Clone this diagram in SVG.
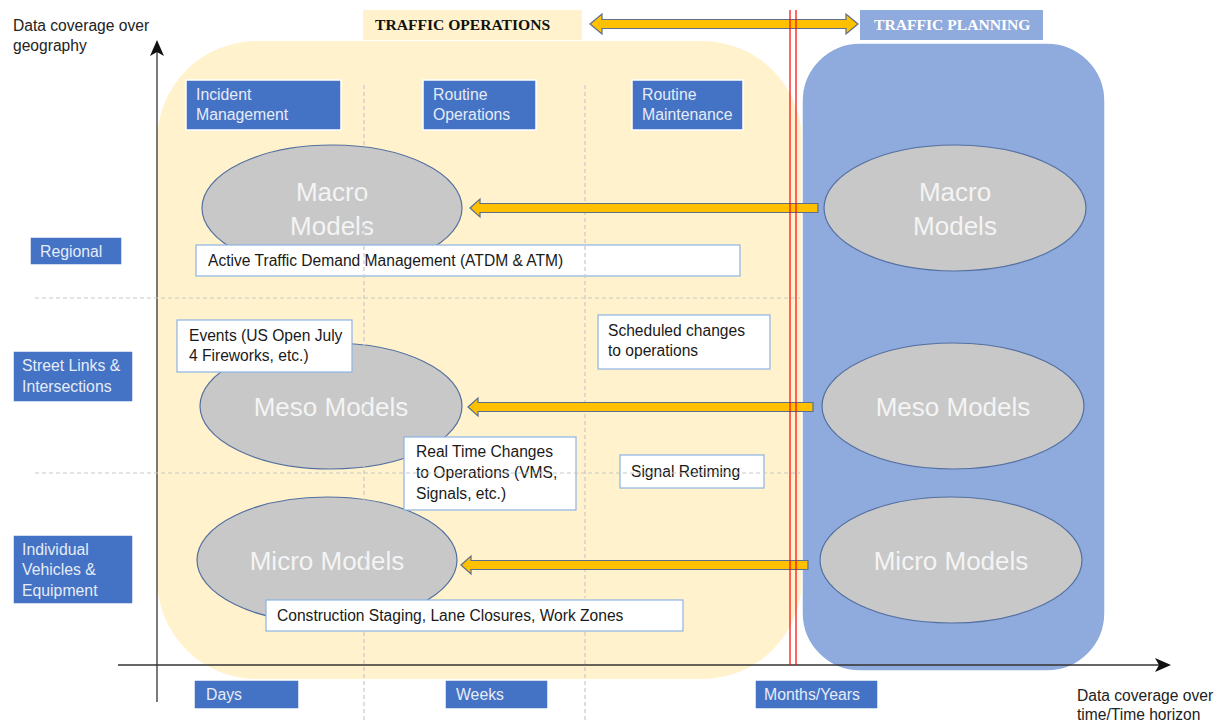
<svg xmlns="http://www.w3.org/2000/svg" width="1219" height="723" viewBox="0 0 1219 723">
<style>
.lbl{fill:#4472C4;stroke:#ffffff;stroke-width:1.5}
.lt{font-family:"Liberation Sans",Arial,sans-serif;font-size:15.8px;fill:#E6ECF7}
.wb{fill:#ffffff;stroke:#8EB4E3;stroke-width:1.2}
.wt{font-family:"Liberation Sans",Arial,sans-serif;font-size:15.6px;fill:#1a1a1a}
.ell{fill:#C8C8C8;stroke:#5470A0;stroke-width:1.2}
.et{font-family:"Liberation Sans",Arial,sans-serif;font-size:26px;fill:#F4F4F4;text-anchor:middle}
.arr{fill:#FFC000;stroke:#5B6F8F;stroke-width:1.2}
.dash{stroke:#C8C8C8;stroke-width:1.2;stroke-dasharray:4 3;fill:none}
.red{stroke:#FF0000;stroke-width:1.2}
.ax{stroke:#333333;stroke-width:1.3}
.at{font-family:"Liberation Sans",Arial,sans-serif;font-size:15.6px;fill:#222222}
.tt{font-family:"Liberation Serif","Times New Roman",serif;font-size:15.6px;font-weight:bold}
</style>
<rect width="1219" height="723" fill="#ffffff"/>
<g id="operations-area"><rect x="157" y="41" width="645" height="638" rx="100" ry="100" fill="#FFF2CC"/></g>
<g id="planning-area"><rect x="802" y="43" width="303" height="628" rx="58" ry="58" fill="#8FAADC" stroke="#ffffff" stroke-width="1.5"/></g>

<g id="title-operations"><rect x="363" y="10" width="219" height="30" fill="#FFF2CC"/><text class="tt" x="375" y="30" fill="#111111">TRAFFIC OPERATIONS</text></g>
<g id="title-planning"><rect x="860" y="10" width="183" height="30" fill="#8FAADC"/><text class="tt" x="874" y="30" fill="#ffffff">TRAFFIC PLANNING</text></g>

<g id="axes">
<line class="ax" x1="157" y1="702" x2="157" y2="48"/>
<path d="M157,40 L150,56 L157,52 L164,56 Z" fill="#111"/>
<line class="ax" x1="118" y1="665" x2="1162" y2="665"/>
<path d="M1171,665 L1155,658 L1159,665 L1155,672 Z" fill="#111"/>
</g>
<g id="axis-labels">
<text class="at" x="13" y="31">Data coverage over</text>
<text class="at" x="13" y="51">geography</text>
<text class="at" x="1077" y="701">Data coverage over</text>
<text class="at" x="1077" y="720">time/Time horizon</text>
</g>

<g id="ellipses">
<g id="macro-ops"><ellipse class="ell" cx="332" cy="208" rx="130" ry="63"/><text class="et" x="332" y="201">Macro</text><text class="et" x="332" y="235">Models</text></g>
<g id="meso-ops"><ellipse class="ell" cx="331" cy="406" rx="131" ry="63"/><text class="et" x="331" y="416">Meso Models</text></g>
<g id="micro-ops"><ellipse class="ell" cx="327" cy="560" rx="130" ry="63"/><text class="et" x="327" y="570">Micro Models</text></g>
<g id="macro-plan"><ellipse class="ell" cx="955" cy="208" rx="131" ry="63"/><text class="et" x="955" y="201">Macro</text><text class="et" x="955" y="235">Models</text></g>
<g id="meso-plan"><ellipse class="ell" cx="953" cy="406" rx="131" ry="63"/><text class="et" x="953" y="416">Meso Models</text></g>
<g id="micro-plan"><ellipse class="ell" cx="951" cy="560" rx="131" ry="63"/><text class="et" x="951" y="570">Micro Models</text></g>
</g>

<g id="box-atdm"><rect class="wb" x="196" y="245" width="544" height="31"/><text class="wt" x="208" y="266">Active Traffic Demand Management (ATDM &amp; ATM)</text></g>
<g id="box-events"><rect class="wb" x="177" y="320" width="175" height="52"/><text class="wt" x="189" y="341">Events (US Open July</text><text class="wt" x="189" y="361">4 Fireworks, etc.)</text></g>
<g id="box-scheduled"><rect class="wb" x="598" y="315" width="172" height="54"/><text class="wt" x="608" y="336">Scheduled changes</text><text class="wt" x="608" y="356">to operations</text></g>
<g id="box-construction"><rect class="wb" x="266" y="600" width="417" height="31"/><text class="wt" x="277" y="621">Construction Staging, Lane Closures, Work Zones</text></g>
<g id="box-realtime"><rect class="wb" x="404" y="437" width="172" height="73"/><text class="wt" x="416" y="457">Real Time Changes</text><text class="wt" x="416" y="478">to Operations (VMS,</text><text class="wt" x="416" y="499">Signals, etc.)</text></g>
<g id="box-signal"><rect class="wb" x="620" y="455" width="144" height="33"/><text class="wt" x="631" y="477">Signal Retiming</text></g>

<g id="grid">
<line class="dash" x1="364" y1="85" x2="364" y2="598"/>
<line class="dash" x1="364" y1="632" x2="364" y2="723"/>
<line class="dash" x1="585" y1="85" x2="585" y2="598"/>
<line class="dash" x1="585" y1="632" x2="585" y2="723"/>
<line class="dash" x1="35" y1="298" x2="800" y2="298"/>
<line class="dash" x1="35" y1="473" x2="800" y2="473"/>
</g>

<g id="connectors">
<path class="arr" d="M470,208 L480,199 L480,203.5 L818,203.5 L818,212.5 L480,212.5 L480,217 Z"/>
<path class="arr" d="M468,407 L478,398 L478,402.5 L813,402.5 L813,411.5 L478,411.5 L478,416 Z"/>
<path class="arr" d="M461,565 L471,556 L471,560.5 L808,560.5 L808,569.5 L471,569.5 L471,574 Z"/>
<path class="arr" d="M590,24 L602,14 L602,19.5 L846,19.5 L846,14 L858,24 L846,34 L846,28.5 L602,28.5 L602,34 Z"/>
<line class="red" x1="790" y1="10" x2="790" y2="665"/>
<line class="red" x1="796" y1="10" x2="796" y2="665"/>
</g>

<g id="label-incident"><rect class="lbl" x="186" y="80" width="155" height="50"/><text class="lt" x="196" y="100">Incident</text><text class="lt" x="196" y="120">Management</text></g>
<g id="label-routine-ops"><rect class="lbl" x="423" y="80" width="113" height="50"/><text class="lt" x="433" y="100">Routine</text><text class="lt" x="433" y="120">Operations</text></g>
<g id="label-routine-maint"><rect class="lbl" x="632" y="80" width="111" height="50"/><text class="lt" x="642" y="100">Routine</text><text class="lt" x="642" y="120">Maintenance</text></g>
<g id="label-regional"><rect class="lbl" x="30" y="237" width="92" height="28"/><text class="lt" x="40" y="257">Regional</text></g>
<g id="label-street"><rect class="lbl" x="13" y="351" width="120" height="51"/><text class="lt" x="22" y="371">Street Links &amp;</text><text class="lt" x="22" y="392">Intersections</text></g>
<g id="label-individual"><rect class="lbl" x="13" y="535" width="120" height="69"/><text class="lt" x="22" y="555">Individual</text><text class="lt" x="22" y="575">Vehicles &amp;</text><text class="lt" x="22" y="596">Equipment</text></g>
<g id="label-days"><rect class="lbl" x="194" y="680" width="105" height="29"/><text class="lt" x="206" y="700">Days</text></g>
<g id="label-weeks"><rect class="lbl" x="445" y="680" width="103" height="29"/><text class="lt" x="456" y="700">Weeks</text></g>
<g id="label-months"><rect class="lbl" x="755" y="680" width="123" height="29"/><text class="lt" x="764" y="700">Months/Years</text></g>
</svg>
